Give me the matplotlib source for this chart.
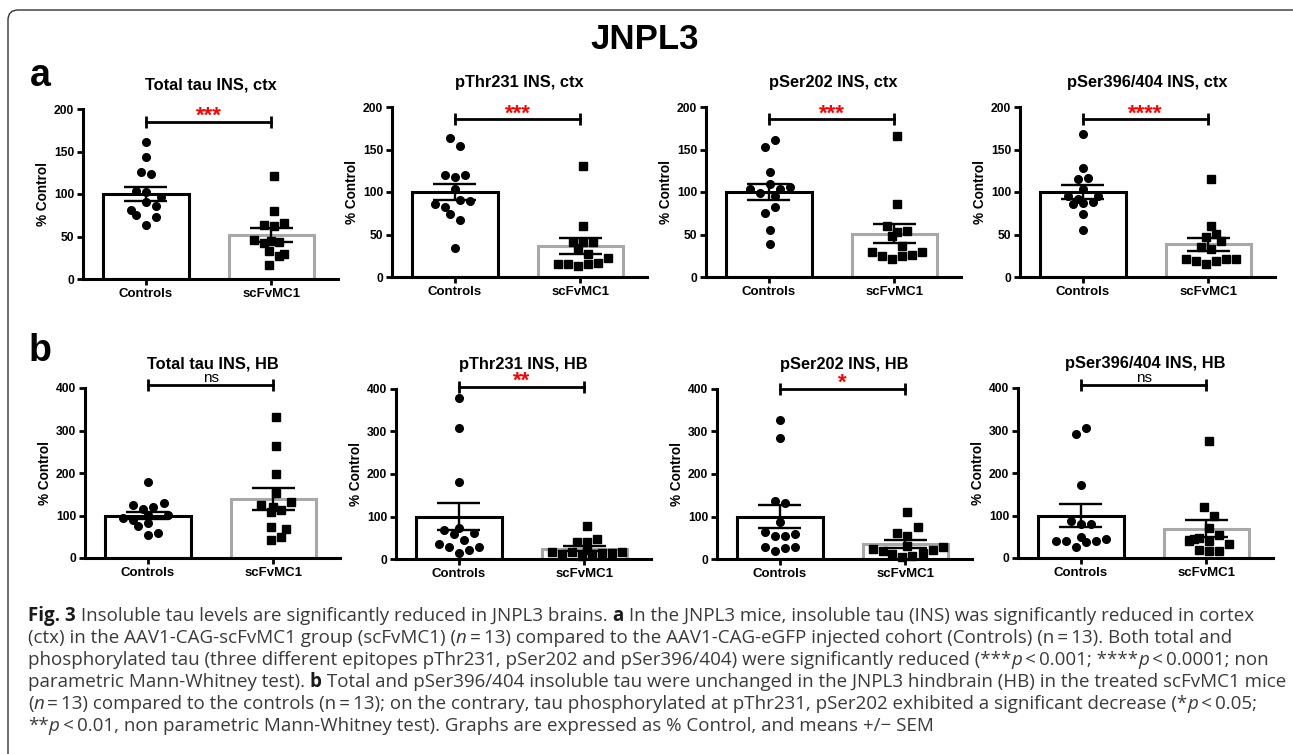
import numpy as np
import matplotlib.pyplot as plt
from matplotlib.patches import FancyBboxPatch
from matplotlib.transforms import IdentityTransform

plt.rcParams['font.family'] = ['Liberation Sans', 'DejaVu Sans']

W, H = 1293, 754

groups = ["Controls", "scFvMC1"]
titles_a = ["Total tau INS, ctx", "pThr231 INS, ctx", "pSer202 INS, ctx", "pSer396/404 INS, ctx"]
titles_b = ["Total tau INS, HB", "pThr231 INS, HB", "pSer202 INS, HB", "pSer396/404 INS, HB"]

# bar heights (mean) and SEM
mean_ctrl_a = [100, 100, 100, 100]
sem_ctrl_a = [8.5, 9, 9, 8]
mean_scf_a = [52, 36.5, 51, 38.5]
sem_scf_a = [8, 9, 11, 7.7]
mean_ctrl_b = [100, 100, 100, 100]
sem_ctrl_b = [9, 32, 27.5, 26]
mean_scf_b = [139, 24, 35, 69]
sem_scf_b = [26.5, 6.3, 10, 20.5]

# significance
sig_a = [185, 186, 186, 186]
stars_a = ["***", "***", "***", "****"]
sig_b = [406, 405, 399, 406]
stars_b = ["ns", "**", "*", "ns"]

# individual animals (values) and horizontal spread
ctrl_a1 = [161, 143.5, 125.5, 123, 104, 102, 96, 91, 85.5, 81, 75, 72.5, 63]
ctrl_a1_dx = [0, 0, -0.04, 0.04, -0.08, 0, 0.12, 0, 0.08, -0.12, -0.08, 0.08, 0]
scf_a1 = [121, 79.5, 63.5, 62.5, 65.5, 45.5, 42.5, 44, 45, 32.5, 29.5, 27.5, 17]
scf_a1_dx = [0.02, 0.02, -0.06, 0.02, 0.10, -0.14, -0.06, 0.06, 0.0, -0.02, 0.10, 0.06, -0.02]

ctrl_a2 = [164, 154, 120, 117.5, 120, 104, 86, 82, 91, 90, 74, 67.5, 34.5]
ctrl_a2_dx = [-0.04, 0.04, -0.08, 0, 0.08, 0, -0.16, -0.08, 0.04, 0.12, -0.04, 0.04, 0]
scf_a2 = [130.5, 60.5, 41, 41, 41, 34.5, 27.5, 22.5, 15.5, 15, 12.5, 15, 16.5]
scf_a2_dx = [0.02, 0.02, -0.06, 0.02, 0.10, -0.02, 0.06, 0.22, -0.18, -0.10, -0.02, 0.06, 0.14]

ctrl_a3 = [153, 161, 124, 109, 103, 99, 103, 105.5, 95, 82, 75.5, 55, 39]
ctrl_a3_dx = [-0.03, 0.05, 0.01, 0.01, -0.15, -0.07, 0.09, 0.17, 0.05, 0.05, -0.03, 0.01, 0.01]
scf_a3 = [165.5, 86, 60.5, 53.5, 54.5, 48, 36.5, 30, 24.5, 21.5, 24.5, 25.5, 30]
scf_a3_dx = [0.02, 0.02, -0.06, 0.02, 0.10, -0.02, 0.06, -0.18, -0.10, -0.02, 0.06, 0.14, 0.22]

ctrl_a4 = [168, 128.5, 115.5, 117, 103, 95, 95, 92, 86, 88, 87.5, 74, 55]
ctrl_a4_dx = [0, 0, -0.04, 0.04, 0, -0.12, 0.12, -0.04, -0.08, 0.08, 0, 0, 0]
scf_a4 = [115, 59.5, 47, 51, 42, 35.5, 33.5, 21.5, 19, 15.5, 18.5, 21.5, 21.5]
scf_a4_dx = [0.02, 0.02, -0.02, 0.06, 0.10, -0.06, 0.02, -0.18, -0.10, -0.02, 0.06, 0.14, 0.22]

ctrl_b1 = [180, 125, 115, 121, 129, 94, 90, 102, 102, 75, 82, 53, 59]
ctrl_b1_dx = [0, -0.12, -0.04, 0.04, 0.13, -0.2, -0.12, 0, 0.16, -0.08, 0, 0, 0.08]
scf_b1 = [332, 263, 198, 154, 125, 132, 108, 112, 73, 68, 48.5, 42.5, 120]
scf_b1_dx = [0.02, 0.02, 0.02, 0.02, -0.1, 0.14, -0.02, 0.06, -0.02, 0.1, 0.06, -0.02, 0.0]

ctrl_b2 = [378, 309, 182, 68, 72, 59, 62, 35, 27.5, 45, 29, 13, 21]
ctrl_b2_dx = [0, 0, 0, -0.12, 0, -0.04, 0.12, -0.16, -0.08, 0.04, 0.16, 0, 0.08]
scf_b2 = [77.5, 46, 39, 39, 15.5, 12, 17, 8, 12, 13.5, 13.5, 15.5, 21]
scf_b2_dx = [0.02, 0.1, -0.06, 0.02, -0.26, -0.18, -0.1, -0.02, 0.06, 0.14, 0.22, 0.3, 0.02]

ctrl_b3 = [327, 285.5, 137, 131, 88, 64, 54, 54, 60, 27.5, 19.5, 25, 29]
ctrl_b3_dx = [0, 0, -0.04, 0.04, 0, -0.12, -0.04, 0.04, 0.12, -0.12, -0.04, 0.04, 0.12]
scf_b3 = [111, 74.5, 60.5, 55, 22.5, 19, 12, 5.5, 7, 13.5, 21, 27.5, 30]
scf_b3_dx = [0.01, 0.1, -0.07, 0.01, -0.26, -0.18, -0.11, -0.03, 0.05, 0.14, 0.22, 0.3, 0.01]

ctrl_b4 = [307, 291, 172, 88, 80.5, 80.5, 49, 41, 41, 25, 37, 41, 44.5]
ctrl_b4_dx = [0.04, -0.04, 0, -0.08, 0, 0.08, 0, -0.2, -0.12, -0.04, 0.04, 0.12, 0.2]
scf_b4 = [275, 121, 99, 70, 47, 54.5, 40.5, 39, 33.5, 19.5, 15.5, 17, 45]
scf_b4_dx = [0.02, -0.02, 0.06, 0.02, -0.06, 0.1, -0.14, 0.02, 0.18, -0.06, 0.02, 0.1, -0.1]

points_a = [(ctrl_a1, ctrl_a1_dx, scf_a1, scf_a1_dx), (ctrl_a2, ctrl_a2_dx, scf_a2, scf_a2_dx),
            (ctrl_a3, ctrl_a3_dx, scf_a3, scf_a3_dx), (ctrl_a4, ctrl_a4_dx, scf_a4, scf_a4_dx)]
points_b = [(ctrl_b1, ctrl_b1_dx, scf_b1, scf_b1_dx), (ctrl_b2, ctrl_b2_dx, scf_b2, scf_b2_dx),
            (ctrl_b3, ctrl_b3_dx, scf_b3, scf_b3_dx), (ctrl_b4, ctrl_b4_dx, scf_b4, scf_b4_dx)]

fig = plt.figure(figsize=(W / 100, H / 100), dpi=100)

# panel placement in pixels: (left, y of zero line)
pos_a = [(83, 279), (392, 277), (706, 277), (1020, 277)]
pos_b = [(85, 558), (396, 559), (717, 559), (1018, 558)]
AX_W, AX_H = 255, 170


def panel(left, base, ymax, yticks, title, pts, means, sems, sig_y, sig_txt, star_off):
    ax = fig.add_axes([left / W, (H - base) / H, AX_W / W, AX_H / H])
    ctrl, ctrl_dx, scf, scf_dx = pts
    ax.bar([0, 1], means, width=0.68, color='white', edgecolor=['black', '#a8a8a8'],
           linewidth=2.2, zorder=1)
    for i in range(2):
        m, s = means[i], sems[i]
        ax.vlines(i, m - s, m + s, color='black', lw=1.7, zorder=3)
        ax.hlines([m - s, m + s], i - 0.17, i + 0.17, color='black', lw=1.7, zorder=3)
    ax.plot(np.array(ctrl_dx), ctrl, 'o', ms=5.5, color='black', zorder=4, clip_on=False)
    ax.plot(1 + np.array(scf_dx), scf, 's', ms=5.2, color='black', zorder=4, clip_on=False)

    ax.set_xlim(-0.5, 1.53)
    ax.set_ylim(0, ymax)
    ax.set_yticks(yticks)
    ax.set_xticks([0, 1])
    ax.set_xticklabels(groups)
    for sp in ['top', 'right']:
        ax.spines[sp].set_visible(False)
    for sp in ['left', 'bottom']:
        ax.spines[sp].set_linewidth(2.2)
    ax.tick_params(width=2, length=4.3, pad=2, labelsize=8.7)
    ax.tick_params(axis='x', labelsize=9.5, pad=2.5)
    for lab in ax.get_xticklabels() + ax.get_yticklabels():
        lab.set_fontweight('bold')
    ax.text(-40 / AX_W, 0.5, '% Control', transform=ax.transAxes, rotation=90,
            ha='center', va='center', fontsize=9.8, fontweight='bold')
    ax.text(0.5, 1.143, title, transform=ax.transAxes, ha='center', va='center',
            fontsize=11.8, fontweight='bold')

    # significance bracket
    ax.plot([0, 1], [sig_y, sig_y], color='black', lw=2, clip_on=False, zorder=5)
    ax.plot([0, 1], [sig_y, sig_y], ls='none', marker='|', ms=8, mew=2, color='black',
            clip_on=False, zorder=5)
    if sig_txt == 'ns':
        ax.text(0.5, sig_y + star_off, 'ns', ha='center', va='center', fontsize=11,
                color='black', clip_on=False)
    else:
        ax.text(0.5, sig_y + star_off, sig_txt, ha='center', va='center', fontsize=16,
                fontweight='bold', color='#ff0000', clip_on=False)
    return ax


for k in range(4):
    means = [mean_ctrl_a[k], mean_scf_a[k]]
    sems = [sem_ctrl_a[k], sem_scf_a[k]]
    panel(pos_a[k][0], pos_a[k][1], 200, [0, 50, 100, 150, 200], titles_a[k], points_a[k],
          means, sems, sig_a[k], stars_a[k], 6)
for k in range(4):
    means = [mean_ctrl_b[k], mean_scf_b[k]]
    sems = [sem_ctrl_b[k], sem_scf_b[k]]
    off = 18 if stars_b[k] == 'ns' else 14
    panel(pos_b[k][0], pos_b[k][1], 400, [0, 100, 200, 300, 400], titles_b[k], points_b[k],
          means, sems, sig_b[k], stars_b[k], off)

fig.text(645 / W, 1 - 49 / H, 'JNPL3', ha='center', va='baseline', fontsize=25, fontweight='bold')
fig.text(40 / W, 1 - 86 / H, 'a', ha='center', va='baseline', fontsize=27, fontweight='bold')
fig.text(40 / W, 1 - 361 / H, 'b', ha='center', va='baseline', fontsize=27, fontweight='bold')

# frame around the figure (right and bottom edges fall outside the canvas)
frame = FancyBboxPatch((8, -10), 1300, H, boxstyle='round,pad=0,rounding_size=10',
                       transform=IdentityTransform(), fill=False, edgecolor='#333333', lw=1.0)
fig.patches.append(frame)

# caption
cap_lines = [
    [("Fig. 3", "b"), (" Insoluble tau levels are significantly reduced in JNPL3 brains. ", "n"), ("a", "b"),
     (" In the JNPL3 mice, insoluble tau (INS) was significantly reduced in cortex", "n")],
    [("(ctx) in the AAV1-CAG-scFvMC1 group (scFvMC1) (", "n"), ("n", "i"),
     ("\u2009=\u200913) compared to the AAV1-CAG-eGFP injected cohort (Controls) (n\u2009=\u200913). Both total and", "n")],
    [("phosphorylated tau (three different epitopes pThr231, pSer202 and pSer396/404) were significantly reduced (***", "n"),
     ("p", "i"), ("\u2009<\u20090.001; ****", "n"), ("p", "i"), ("\u2009<\u20090.0001; non", "n")],
    [("parametric Mann-Whitney test). ", "n"), ("b", "b"),
     (" Total and pSer396/404 insoluble tau were unchanged in the JNPL3 hindbrain (HB) in the treated scFvMC1 mice", "n")],
    [("(", "n"), ("n", "i"),
     ("\u2009=\u200913) compared to the controls (n\u2009=\u200913); on the contrary, tau phosphorylated at pThr231, pSer202 exhibited a significant decrease (*", "n"),
     ("p", "i"), ("\u2009<\u20090.05;", "n")],
    [("**", "n"), ("p", "i"),
     ("\u2009<\u20090.01, non parametric Mann-Whitney test). Graphs are expressed as % Control, and means +/\u2212 SEM", "n")],
]

renderer = fig.canvas.get_renderer()
cap_font = ['Open Sans', 'DejaVu Sans']


def style_kw(st, size):
    kw = dict(family=cap_font, fontsize=size, color='#3a3a3a')
    if st == 'b':
        kw.update(fontweight='bold', color='#1a1a1a')
    elif st == 'i':
        kw.update(style='italic')
    return kw


def seg_width(s, kw):
    t1 = fig.text(0, 0, s + '|', **kw)
    t2 = fig.text(0, 0, '|', **kw)
    w = t1.get_window_extent(renderer).width - t2.get_window_extent(renderer).width
    t1.remove()
    t2.remove()
    return w


def line_width(line, size):
    return sum(seg_width(s, style_kw(st, size)) for s, st in line)


# the longest caption line runs from x=28 almost to the right edge in the original
cap_size = 11 * 1260 / line_width(cap_lines[3], 11)

for li, line in enumerate(cap_lines):
    x = 28
    y = 621 + 22 * li
    for s, st in line:
        kw = style_kw(st, cap_size)
        fig.text(x / W, 1 - y / H, s, va='baseline', ha='left', **kw)
        x += seg_width(s, kw)

fig.savefig('out.png', dpi=100)
